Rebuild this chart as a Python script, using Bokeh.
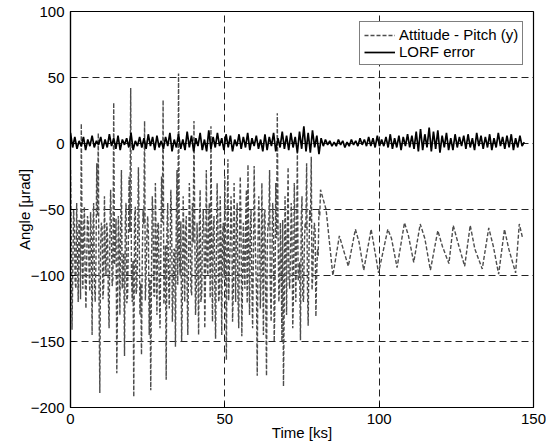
import numpy as np
from bokeh.plotting import figure
from bokeh.models import Range1d, Legend, LegendItem, FixedTicker
from bokeh.embed import file_html
from bokeh.resources import INLINE

FONT = "Liberation Sans"

# ---------------- data ----------------
# Attitude - Pitch (y): fast part, sampled every 0.5 ks from t = 0
PITCH_FAST_DT = 0.5
pitch_fast = [
    -20, -141, -50, -105, -45, -120, -60, 15, -110, -48,
    -125, -55, -95, -52, -145, -45, -120, -15, 8, -189,
    -60, -118, -40, -100, -70, -140, -35, -108, 31, -80,
    -174, -55, -130, -20, -95, -161, -45, -115, -25, 42,
    -120, -192, -48, -110, -18, -130, -160, -50, 17, -100,
    -55, -145, -187, -40, -115, -30, -130, -60, -140, -25,
    33, -110, -179, -45, -125, -35, -135, -80, -154, -20,
    53, -100, -150, -40, -120, -55, -145, -30, -110, -45,
    17, -130, -60, -145, -35, -115, -50, -140, -20, -100,
    -45, 13, -135, -55, -148, -30, -120, -40, -145, -60,
    -25, -164, -12, -95, -40, -135, -30, -120, -45, -140,
    -25, -146, -60, -110, -35, -16, -130, -50, -140, -17,
    -90, -176, -40, -125, -30, -145, -50, -176, -60, -20,
    -135, -45, -150, -30, 23, -120, -60, -150, -184, -40,
    -130, -18, -110, -45, -140, -30, -120, -6, -100, -149,
    -40, -120, -60, -15, -138, -50, -10, -100, -60, -131,
    -80, -50, -35,
]
# Attitude - Pitch (y): dense core oscillation, half-way between the samples above
pitch_core = [
    -70, -95, -62, -110, -80, -58, -118, -75, -65, -100,
    -88, -60, -112, -72, -66, -105, -90, -55, -120, -78,
    -64, -108, -85, -60, -115, -70, -68, -102, -92, -57,
    -117, -76, -63, -110, -83, -59, -121, -73, -67, -99,
    -89, -56, -114, -79, -65, -106, -87, -61, -119, -71,
    -69, -103, -94, -58, -116, -74, -62, -109, -86, -60,
    -122, -77, -66, -101, -91, -55, -113, -80, -64, -107,
    -84, -59, -118, -72, -68, -104, -93, -57, -115, -75,
    -63, -111, -88, -61, -120, -70, -67, -100, -90, -56,
    -117, -78, -65, -108, -85, -60, -114, -73, -69, -102,
    -92, -58, -119, -76, -62, -110, -87, -59, -116, -71,
    -66, -105, -94, -57, -121, -79, -64, -103, -89, -61,
    -112, -74, -68, -99, -91, -55, -118, -77, -63, -109,
    -86, -60, -115, -72, -67, -106, -93, -58, -120, -75,
    -65, -101, -88, -62, -113, -70, -69, -104, -90, -57,
    -117, -78, -64, -107, -84, -59, -111, -73, -66, -100,
    -85, -55,
]
# Attitude - Pitch (y): slow part after ~82 ks (turning points)
pitch_slow_t = [82.8, 85.0, 87.1, 90.0, 92.3, 93.5, 95.0, 97.4, 99.8, 102.8,
                104.0, 105.8, 108.2, 109.5, 111.2, 113.3, 114.8, 116.6, 119.0, 120.5,
                122.6, 124.0, 125.5, 127.7, 129.5, 131.0, 133.4, 135.5, 137.0, 138.7,
                140.6, 142.0, 144.2, 145.4, 146.5]
pitch_slow_y = [-50, -100, -70, -93, -65, -75, -96, -65, -98, -65,
                -72, -94, -60, -70, -90, -61, -72, -96, -66, -78,
                -91, -62, -75, -93, -62, -80, -95, -64, -78, -99,
                -65, -80, -98, -61, -72]

# LORF error, sampled every 0.7 ks from t = 0
LORF_DT = 0.7
lorf = [
    8, -3, 5, -4, 2, -2, 5, -5, 3, -2,
    6, -3, 2, -1, 5, -4, 3, -3, 7, -2,
    4, -4, 6, -5, 3, -1, 4, -3, 8, -5,
    2, -2, 5, -3, 4, -4, 7, -2, 5, -5,
    6, -3, 2, -4, 5, -2, 8, -6, 3, -3,
    7, -4, 3, -5, 9, -3, 6, -6, 4, -2,
    8, -5, 3, -6, 10, -4, 5, -3, 8, -2,
    4, -5, 7, -3, 6, -6, 3, -2, 7, -4,
    5, -3, 8, -5, 4, -2, 6, -4, 3, -6,
    7, -5, 5, -2, 8, -6, 4, -3, 9, -4,
    6, -5, 8, -3, 5, -7, 9, -4, 13, -6,
    8, -7, 10, -3, 6, -8, 4, -2, 3, -1,
    2, -2, 1, -2, 3, -1, 2, -3, 1, -2,
    3, -1, 2, -2, 4, -1, 3, -2, 5, -2,
    4, -3, 6, -2, 3, -2, 5, -3, 7, -4,
    4, -3, 6, -5, 5, -2, 7, -3, 6, -4,
    9, -6, 11, -5, 7, -3, 12, -6, 9, -4,
    10, -7, 6, -3, 8, -5, 4, -5, 7, -3,
    5, -2, 6, -4, 7, -3, 4, -5, 8, -2,
    6, -4, 5, -3, 7, -5, 4, -3, 8, -2,
    5, -4, 6, -3, 7, -5, 4, -3, 6, -2, 1,
]

x_ticks = [0, 50, 100, 150]
y_ticks = [-200, -150, -100, -50, 0, 50, 100]

# merge the fast samples with the core samples lying half-way between them
fast_t = []
fast_y = []
for i, v in enumerate(pitch_fast):
    fast_t.append(i * PITCH_FAST_DT)
    fast_y.append(v)
    if i < len(pitch_core):
        fast_t.append(i * PITCH_FAST_DT + PITCH_FAST_DT / 2)
        fast_y.append(pitch_core[i])
pitch_t = fast_t + pitch_slow_t
pitch_y = fast_y + pitch_slow_y
lorf_t = list(np.arange(len(lorf)) * LORF_DT)

# ---------------- figure ----------------
p = figure(width=546, height=445, output_backend="svg", toolbar_location=None,
           x_range=Range1d(0, 150), y_range=Range1d(-200, 100),
           min_border_left=70, min_border_right=13, min_border_top=11, min_border_bottom=38)
p.background_fill_color = "white"
p.border_fill_color = "white"
p.outline_line_color = "black"
p.outline_line_width = 1.2

r_pitch = p.line(pitch_t, pitch_y, line_color="#4d4d4d", line_width=1.4, line_dash="4 2")
r_lorf = p.line(lorf_t, lorf, line_color="black", line_width=1.7)

for ax in (p.xaxis[0], p.yaxis[0]):
    ax.major_label_text_font = FONT
    ax.major_label_text_font_size = "15px"
    ax.major_label_text_color = "black"
    ax.axis_label_text_font = FONT
    ax.axis_label_text_font_size = "15px"
    ax.axis_label_text_font_style = "normal"
    ax.axis_label_text_color = "black"
    ax.major_tick_in = 5
    ax.major_tick_out = 0
    ax.minor_tick_in = 0
    ax.minor_tick_out = 0
    ax.axis_line_color = "black"
    ax.axis_line_width = 1.2
    ax.major_tick_line_color = "black"

p.xaxis.ticker = FixedTicker(ticks=x_ticks)
p.yaxis.ticker = FixedTicker(ticks=y_ticks)
p.xaxis.axis_label = "Time [ks]"
p.yaxis.axis_label = "Angle [\u03bcrad]"
p.xaxis.major_label_standoff = 6
p.xaxis.axis_label_standoff = -3
p.yaxis.major_label_standoff = 6
p.yaxis.axis_label_standoff = -5

p.xgrid[0].ticker = FixedTicker(ticks=x_ticks)
p.ygrid[0].ticker = FixedTicker(ticks=y_ticks)
for g in (p.xgrid[0], p.ygrid[0]):
    g.grid_line_color = "#222222"
    g.grid_line_width = 1
    g.grid_line_dash = "7 4"

legend = Legend(items=[LegendItem(label="Attitude - Pitch (y)", renderers=[r_pitch]),
                       LegendItem(label="LORF error", renderers=[r_lorf])],
                location=(289, 342))
legend.border_line_color = "black"
legend.border_line_width = 1
legend.background_fill_color = "white"
legend.background_fill_alpha = 1
legend.label_text_font = FONT
legend.label_text_font_size = "15px"
legend.label_text_color = "black"
legend.glyph_width = 31
legend.glyph_height = 14
legend.label_height = 14
legend.padding = 4
legend.spacing = 0
legend.margin = 0
legend.label_standoff = 4
p.add_layout(legend)

open("out.html", "w").write(file_html(p, INLINE))
